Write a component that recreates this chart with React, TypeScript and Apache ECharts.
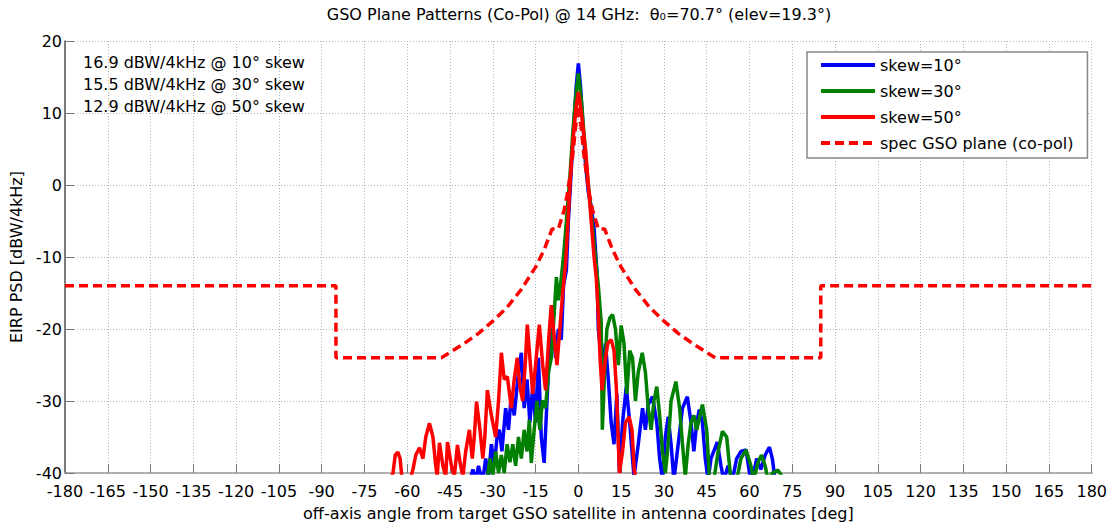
import React, { useEffect, useRef } from "react";
import * as echarts from "echarts";

const FONT = "DejaVu Sans";

const titleText = "GSO Plane Patterns (Co-Pol) @ 14 GHz:  θ₀=70.7° (elev=19.3°)";
const notes = [
  "16.9 dBW/4kHz @ 10° skew",
  "15.5 dBW/4kHz @ 30° skew",
  "12.9 dBW/4kHz @ 50° skew",
];
const seriesNames = ["skew=10°", "skew=30°", "skew=50°", "spec GSO plane (co-pol)"];
const seriesColors = ["#0000ff", "#008000", "#ff0000", "#ff0000"];

const xMin = -180;
const xMax = 180;
const xStep = 15;
const yMin = -40;
const yMax = 20;
const yStep = 10;

const skew10: [number, number][] = [
  [-38, -41], [-37, -39.5], [-36, -41], [-35, -39], [-34.7, -39.6], [-33.5, -41], [-32.5, -38],
  [-31.5, -40.5], [-30.5, -36], [-29.5, -39], [-28.5, -35], [-27.7, -34], [-26.8, -37], [-25.5, -31],
  [-24.5, -34], [-23.5, -29], [-22.5, -32], [-21, -26], [-20, -23.3], [-19, -31], [-18, -27],
  [-17, -33], [-16, -28], [-15, -33], [-14, -24], [-13, -35], [-12, -38.6], [-11, -30], [-10, -22],
  [-9, -19.2], [-8, -24], [-7, -20], [-6, -21.5], [-5.2, -14], [-4.2, -11.8], [-3.5, -5],
  [-2.5, 2], [-1.5, 9], [-0.7, 14], [0, 16.9], [0.7, 14], [1.5, 9], [2.5, 3], [3.5, -1],
  [4.5, -3], [5.5, -6], [6.5, -12], [7, -20], [7.5, -22], [8.5, -25], [9.5, -22], [10.5, -27],
  [11.5, -33], [12.5, -36], [13.5, -29], [14.4, -40], [15.5, -33], [16.8, -28], [18, -33],
  [19.5, -40.5], [21, -36], [22.5, -31], [23.5, -34], [24.5, -30.5], [26, -29.4], [27.5, -33],
  [28.5, -38], [29.5, -41], [30.5, -35], [31.5, -32.2], [32.5, -36], [33.5, -41], [35, -36],
  [36.5, -31], [38.2, -29.4], [39.5, -33], [40.5, -37], [41.5, -33], [42.4, -31.2], [43.5, -33],
  [44.5, -38], [45.5, -41], [46.5, -38], [48.7, -35.7], [50, -39], [51, -41], [52.5, -39],
  [54, -41], [55.5, -38], [57, -37], [58.8, -36.8], [60, -40], [61, -41], [62.5, -38],
  [64, -39.5], [65.5, -37.5], [67, -36.4], [68, -38], [69, -41],
];

const skew30: [number, number][] = [
  [-32, -41], [-31, -38], [-30, -40.5], [-29, -37], [-28, -40], [-27, -37.5], [-26, -40],
  [-25, -36], [-24, -38.5], [-23, -36], [-22, -39], [-21, -35], [-20, -38], [-19, -34],
  [-18, -37], [-17.2, -32.6], [-16.5, -38.6], [-15.5, -34], [-14.5, -30], [-13.5, -34],
  [-12.6, -29.9], [-11.5, -31], [-10.5, -26], [-9.5, -24], [-8.5, -18], [-7.7, -12.8],
  [-7, -16], [-6, -13], [-5, -9], [-4, -4], [-3, 1], [-2, 7], [-1, 12], [0, 15.5], [1, 12],
  [2, 7], [3, 2], [4, -2], [5, -6], [6, -10], [7, -14], [8, -19], [8.4, -34], [9.2, -26],
  [10, -20], [11, -18.5], [12, -18], [13, -20], [14, -25], [15, -19.5], [16, -22], [17, -29],
  [18, -23], [19, -24], [20, -30], [21, -26], [22.4, -23.3], [23.5, -26], [24.5, -31],
  [25.5, -34], [26.5, -30], [27.5, -28], [28.5, -32], [29.5, -37], [30.5, -40], [31.5, -36],
  [32.5, -30], [34.2, -27.3], [35.5, -31], [36.5, -36], [37.5, -40.5], [38.5, -36],
  [39.5, -33], [40.5, -32], [41.5, -34], [43.5, -30.5], [45, -34], [46, -41], [47.5, -41],
  [49, -37], [50.5, -34.2], [52, -35], [53.5, -41], [55.5, -41], [57, -38], [58.8, -36.8],
  [60.5, -39], [61.5, -41], [63, -38.5], [64.2, -37.5], [65.5, -39], [66.5, -41], [68, -40],
  [70, -39.6], [71.5, -40.5],
];

const skew50: [number, number][] = [
  [-66, -41], [-65, -40], [-64.2, -37.5], [-63.3, -37.1], [-62.5, -38], [-61.8, -41],
  [-59, -41], [-58, -39.5], [-57, -37.5], [-55.7, -36.5], [-54.5, -38], [-53.5, -35],
  [-52.2, -33.1], [-51, -35], [-50, -39], [-49.5, -40.5], [-48.7, -35.8], [-47.5, -39],
  [-46.5, -40.5], [-45.9, -35.7], [-44.5, -39], [-43.5, -40.5], [-42.4, -36.1], [-41.5, -38.5],
  [-40.5, -40.5], [-39.5, -37], [-38.2, -34], [-37.2, -38], [-36.5, -35], [-35.7, -30.1],
  [-34.5, -34], [-33.5, -38], [-32.8, -35], [-31.9, -28.5], [-30.5, -32], [-29, -35],
  [-28, -30], [-27, -23.3], [-26, -27], [-24.9, -26.6], [-23.5, -31], [-22.5, -27],
  [-21.4, -24], [-20.5, -28], [-19.5, -30], [-18.5, -24], [-17.9, -19.4], [-17, -24],
  [-16, -29], [-15, -25], [-13.7, -19.4], [-12.5, -25], [-11.5, -28.5], [-10.5, -22],
  [-9.5, -16.7], [-8.5, -21], [-7.5, -25], [-6.5, -20], [-5.5, -15], [-4.5, -11],
  [-3.5, -4], [-2.5, 3], [-1.5, 8], [-0.7, 11], [0, 12.9], [0.7, 11], [1.5, 8.5], [2.5, 5],
  [3.5, 0], [4.5, -5], [5.5, -10], [6.3, -13], [7, -18], [7.6, -24], [8.3, -28.5],
  [9.2, -25], [10.3, -22], [11.5, -21.5], [12.5, -23], [13.3, -28], [14.4, -40],
  [15.5, -37], [16.5, -33], [17.8, -32.2], [18.8, -34], [19.6, -39.6], [20.2, -41],
];

const specGso: [number, number][] = [
  [-180, -14], [-85, -14], [-85, -24], [-48, -24], [-40, -22], [-35, -20.6], [-30, -18.9],
  [-25, -17], [-20, -14.5], [-15, -11.4], [-12, -9], [-9.2, -6.1], [-7, -6.1], [-5, -3.5],
  [-4, -1.5], [-3, 1], [-2, 4], [-1, 8], [0, 11], [1, 8], [2, 4], [3, 1], [4, -1.5],
  [5, -3.5], [7, -6.1], [9.2, -6.1], [12, -9], [15, -11.4], [20, -14.5], [25, -17],
  [30, -18.9], [35, -20.6], [40, -22], [48, -24], [85, -24], [85, -14], [180, -14],
];

const seriesData = [skew10, skew30, skew50, specGso];

export default function App() {
  const ref = useRef<HTMLDivElement>(null);

  useEffect(() => {
    if (!ref.current) return;
    const chart = echarts.init(ref.current, null, { renderer: "svg" });
    const textStyle = { fontFamily: FONT, fontSize: 16, color: "#000" };

    chart.setOption({
      animation: false,
      backgroundColor: "#ffffff",
      grid: { left: 65, right: 17, top: 41, bottom: 54, containLabel: false },
      xAxis: {
        type: "value",
        min: xMin,
        max: xMax,
        interval: xStep,
        name: "off-axis angle from target GSO satellite in antenna coordinates [deg]",
        nameLocation: "middle",
        nameGap: 32,
        nameTextStyle: textStyle,
        axisLine: { show: true, onZero: false, lineStyle: { color: "#b0b0b0", width: 2 } },
        axisTick: { show: true, inside: true, length: 9, lineStyle: { color: "#777" } },
        axisLabel: { ...textStyle, margin: 10, showMinLabel: true, showMaxLabel: true },
        splitLine: { show: true, lineStyle: { color: "#b5b5b5", type: [1, 2], width: 1 } },
      },
      yAxis: {
        type: "value",
        min: yMin,
        max: yMax,
        interval: yStep,
        name: "EIRP PSD [dBW/4kHz]",
        nameLocation: "middle",
        nameRotate: 90,
        nameGap: 40,
        nameTextStyle: textStyle,
        axisLine: { show: true, onZero: false, lineStyle: { color: "#555", width: 1.5 } },
        axisTick: { show: true, inside: true, length: 9, lineStyle: { color: "#777" } },
        axisLabel: { ...textStyle, margin: 3 },
        splitLine: { show: true, lineStyle: { color: "#b5b5b5", type: [1, 2], width: 1 } },
      },
      legend: {
        data: seriesNames,
        orient: "vertical",
        left: 807,
        top: 52,
        padding: [5, 14, 7, 12],
        itemWidth: 54,
        itemHeight: 16,
        itemGap: 10,
        borderColor: "#888",
        borderWidth: 1.5,
        backgroundColor: "#ffffff",
        itemStyle: { opacity: 0 },
        lineStyle: { width: 4 },
        textStyle: textStyle,
      },
      graphic: [
        {
          type: "text",
          x: 579,
          y: 14,
          style: {
            text: titleText,
            font: `16px "${FONT}"`,
            fill: "#000",
            textAlign: "center",
            textVerticalAlign: "middle",
            align: "center",
            verticalAlign: "middle",
          },
        },
        ...notes.map((t, i) => ({
          type: "text",
          x: 83,
          y: 62 + i * 22,
          z: 10,
          style: {
            text: t,
            font: `16px "${FONT}"`,
            fill: "#000",
            textAlign: "left",
            textVerticalAlign: "middle",
            align: "left",
            verticalAlign: "middle",
          },
        })),
      ],
      series: seriesData.map((d, i) => ({
        name: seriesNames[i],
        type: "line",
        data: d,
        symbol: "none",
        clip: true,
        z: 2 + i,
        lineStyle: {
          color: seriesColors[i],
          width: 3.5,
          type: i === 3 ? [9, 5] : "solid",
        },
        itemStyle: { color: seriesColors[i] },
      })),
    });

    return () => chart.dispose();
  }, []);

  return (
    <div
      ref={ref}
      style={{ position: "fixed", left: 0, top: 0, width: 1110, height: 527 }}
    />
  );
}
